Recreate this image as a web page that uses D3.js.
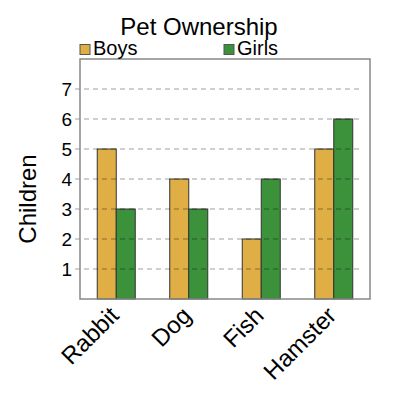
<!DOCTYPE html>
<meta charset="utf-8">
<style>
  body { margin: 0; background: #fff; }
  text { font-family: "Liberation Sans", Arial, sans-serif; fill: #000; }
  .grid line { stroke: #000; stroke-opacity: 0.25; stroke-width: 1.5; stroke-dasharray: 5,4; }
</style>
<svg width="400" height="400"></svg>
<script src="https://cdn.jsdelivr.net/npm/d3@7"></script>
<script>
const pets = ["Rabbit", "Dog", "Fish", "Hamster"];
const boys = [5, 4, 2, 5];
const girls = [3, 3, 4, 6];
const yTicks = [1, 2, 3, 4, 5, 6, 7];
const series = ["Boys", "Girls"];
const colors = ["#dfae45", "#3b923b"];

const svg = d3.select("svg");
const mLeft = 80, mRight = 370, mTop = 59, mBottom = 299;

const x = d3.scaleBand().domain(pets).range([mLeft, mRight]);
const xs = d3.scaleBand().domain(series).range([0, 38]);
const y = d3.scaleLinear().domain([0, 8]).range([mBottom, mTop]);

// bars
const data = pets.map((p, i) => ({ pet: p, vals: [boys[i], girls[i]] }));
const grp = svg.append("g").selectAll("g").data(data).enter().append("g")
  .attr("transform", d => `translate(${x(d.pet) + x.bandwidth() / 2 - 19},0)`);
grp.selectAll("rect").data(d => d.vals.map((v, j) => ({ s: series[j], v: v, c: colors[j] })))
  .enter().append("rect")
    .attr("x", d => xs(d.s)).attr("width", xs.bandwidth())
    .attr("y", d => y(d.v)).attr("height", d => mBottom - y(d.v))
    .attr("fill", d => d.c).attr("stroke", "#333").attr("stroke-width", 1);

// gridlines (drawn over the bars, faint)
svg.append("g").attr("class", "grid")
  .selectAll("line").data(yTicks).enter().append("line")
    .attr("x1", mLeft - 5).attr("x2", mRight - 10)
    .attr("y1", d => y(d)).attr("y2", d => y(d));

// y tick labels
svg.append("g").selectAll("text").data(yTicks).enter().append("text")
  .attr("x", mLeft - 8).attr("y", d => y(d) + 7)
  .attr("text-anchor", "end").attr("font-size", 19)
  .text(d => d);

// frame
svg.append("rect")
  .attr("x", mLeft).attr("y", mTop)
  .attr("width", mRight - mLeft).attr("height", mBottom - mTop)
  .attr("fill", "none").attr("stroke", "#888").attr("stroke-width", 1.5);

// category labels
svg.append("g").selectAll("text").data(pets).enter().append("text")
  .attr("transform", d => `translate(${x(d) + x.bandwidth() / 2 + 4},${mBottom + 18}) rotate(-45)`)
  .attr("text-anchor", "end").attr("font-size", 24)
  .text(d => d);

// title
svg.append("text").attr("x", 199).attr("y", 35)
  .attr("text-anchor", "middle").attr("font-size", 24).text("Pet Ownership");

// y title
svg.append("text").attr("transform", "translate(36,199) rotate(-90)")
  .attr("text-anchor", "middle").attr("font-size", 24).text("Children");

// legend
const legX = [80, 224];
series.forEach((s, i) => {
  svg.append("rect").attr("x", legX[i]).attr("y", 44.5).attr("width", 10).attr("height", 10)
    .attr("fill", colors[i]).attr("stroke", "#555");
  svg.append("text").attr("x", legX[i] + 13).attr("y", 55).attr("font-size", 20).text(s);
});
</script>
